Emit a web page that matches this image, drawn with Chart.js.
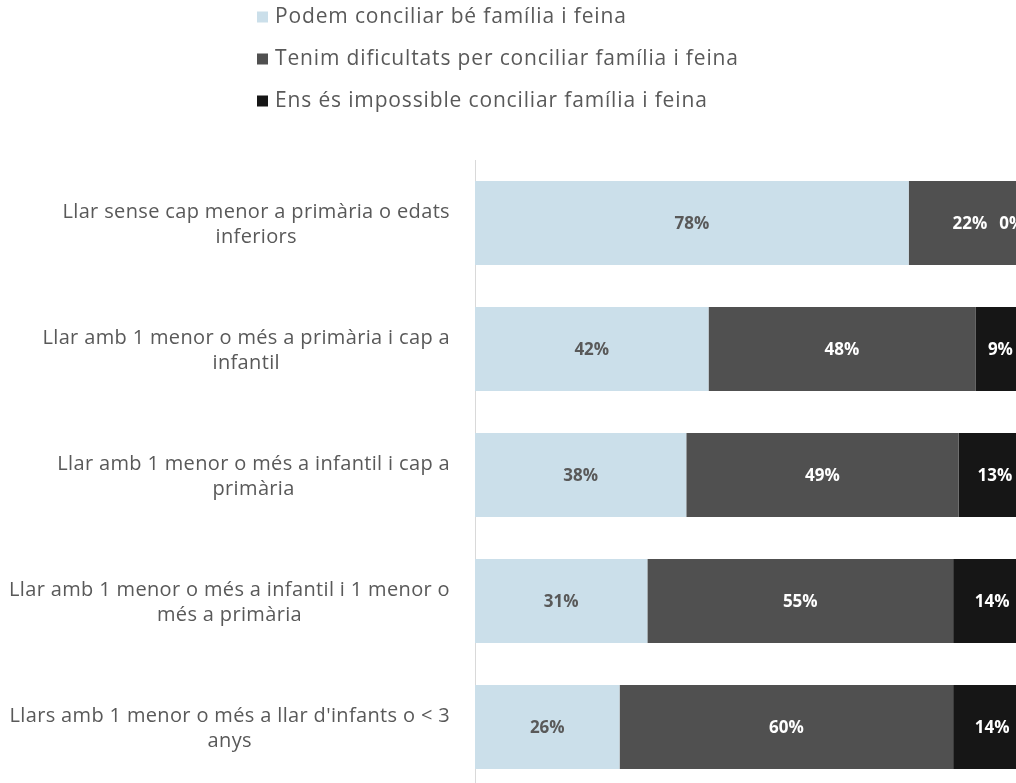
<!DOCTYPE html>
<html>
<head>
<meta charset="utf-8">
<script src="https://cdn.jsdelivr.net/npm/chart.js@4"></script>
<style>
  html, body { margin: 0; padding: 0; background: #fff; overflow: hidden; }
  #wrap { position: absolute; left: 0; top: 0; width: 1040px; height: 800px; }
</style>
</head>
<body>
<div id="wrap"><canvas id="conciliacioChart" width="1040" height="800"></canvas></div>
<script>
// Categories (wrapped as in the picture)
const categories = [
  ["Llar sense cap menor a primària o edats", "inferiors"],
  ["Llar amb 1 menor o més a primària i cap a", "infantil"],
  ["Llar amb 1 menor o més a infantil i cap a", "primària"],
  ["Llar amb 1 menor o més a infantil i 1 menor o", "més a primària"],
  ["Llars amb 1 menor o més a llar d'infants o < 3", "anys"]
];

const seriesNames = [
  "Podem conciliar bé família i feina",
  "Tenim dificultats per conciliar família i feina",
  "Ens és impossible conciliar família i feina"
];

const podemValues = [78, 42, 38, 31, 26];
const dificultatsValues = [22, 48, 49, 55, 60];
const impossibleValues = [0, 9, 13, 14, 14];

const seriesColors = ["#cbdfea", "#505050", "#161616"];
const labelColors = ["#595959", "#ffffff", "#ffffff"];
const textFont = "'Open Sans', sans-serif";

// Legend drawn as a vertical list above the plot
const legendList = {
  id: "legendList",
  afterDraw(chart) {
    const ctx = chart.ctx;
    ctx.save();
    ctx.font = "21px " + textFont;
    ctx.letterSpacing = "0.85px";
    ctx.textBaseline = "middle";
    ctx.textAlign = "left";
    chart.data.datasets.forEach((ds, i) => {
      const y = 17 + i * 42;
      ctx.fillStyle = ds.backgroundColor;
      ctx.fillRect(257, y - 5.5, 11, 11);
      ctx.fillStyle = "#595959";
      ctx.fillText(ds.label, 275, y);
    });
    ctx.restore();
  }
};

// Category labels: right aligned block, lines centered inside it
const categoryLabels = {
  id: "categoryLabels",
  afterDraw(chart) {
    const ctx = chart.ctx;
    const yScale = chart.scales.y;
    ctx.save();
    ctx.font = "20px " + textFont;
    ctx.letterSpacing = "0.35px";
    ctx.textBaseline = "middle";
    ctx.textAlign = "center";
    ctx.fillStyle = "#595959";
    chart.data.labels.forEach((lines, i) => {
      const y = yScale.getPixelForValue(i) + 2;
      const w = Math.max(...lines.map((l) => ctx.measureText(l).width));
      const cx = 450 - w / 2;
      lines.forEach((line, k) => {
        ctx.fillText(line, cx, y + (k - (lines.length - 1) / 2) * 25);
      });
    });
    ctx.restore();
  }
};

// Percent labels at the middle of each segment
const segmentLabels = {
  id: "segmentLabels",
  afterDatasetsDraw(chart) {
    const ctx = chart.ctx;
    ctx.save();
    ctx.font = "bold 17px " + textFont;
    ctx.textBaseline = "middle";
    ctx.textAlign = "center";
    chart.data.labels.forEach((_, i) => {
      let lastRight = 0;
      chart.data.datasets.forEach((ds, d) => {
        const bar = chart.getDatasetMeta(d).data[i];
        const text = ds.data[i] + "%";
        const w = ctx.measureText(text).width;
        let cx = (bar.base + bar.x) / 2;
        // empty segment: put its label just after the previous one
        if (ds.data[i] === 0) cx = lastRight + 12 + w / 2;
        ctx.fillStyle = ds.data[i] === 0 ? "#ffffff" : labelColors[d];
        ctx.fillText(text, cx, bar.y + 1);
        lastRight = cx + w / 2;
      });
    });
    ctx.restore();
  }
};

new Chart(document.getElementById("conciliacioChart"), {
  type: "bar",
  data: {
    labels: categories,
    datasets: [
      { label: seriesNames[0], data: podemValues, backgroundColor: seriesColors[0] },
      { label: seriesNames[1], data: dificultatsValues, backgroundColor: seriesColors[1] },
      { label: seriesNames[2], data: impossibleValues, backgroundColor: seriesColors[2] }
    ]
  },
  options: {
    indexAxis: "y",
    responsive: false,
    animation: false,
    layout: { padding: { top: 160, right: 9, bottom: 10, left: 0 } },
    datasets: { bar: { barPercentage: 0.667, categoryPercentage: 1, borderWidth: 0 } },
    plugins: { legend: { display: false }, tooltip: { enabled: false } },
    scales: {
      x: { stacked: true, min: 0, max: 100, display: false },
      y: {
        stacked: true,
        ticks: { display: false },
        grid: { display: false },
        border: { display: true, color: "#d9d9d9", width: 1 },
        afterFit(scale) { scale.width = 475; }
      }
    }
  },
  plugins: [legendList, categoryLabels, segmentLabels]
});
</script>
</body>
</html>
